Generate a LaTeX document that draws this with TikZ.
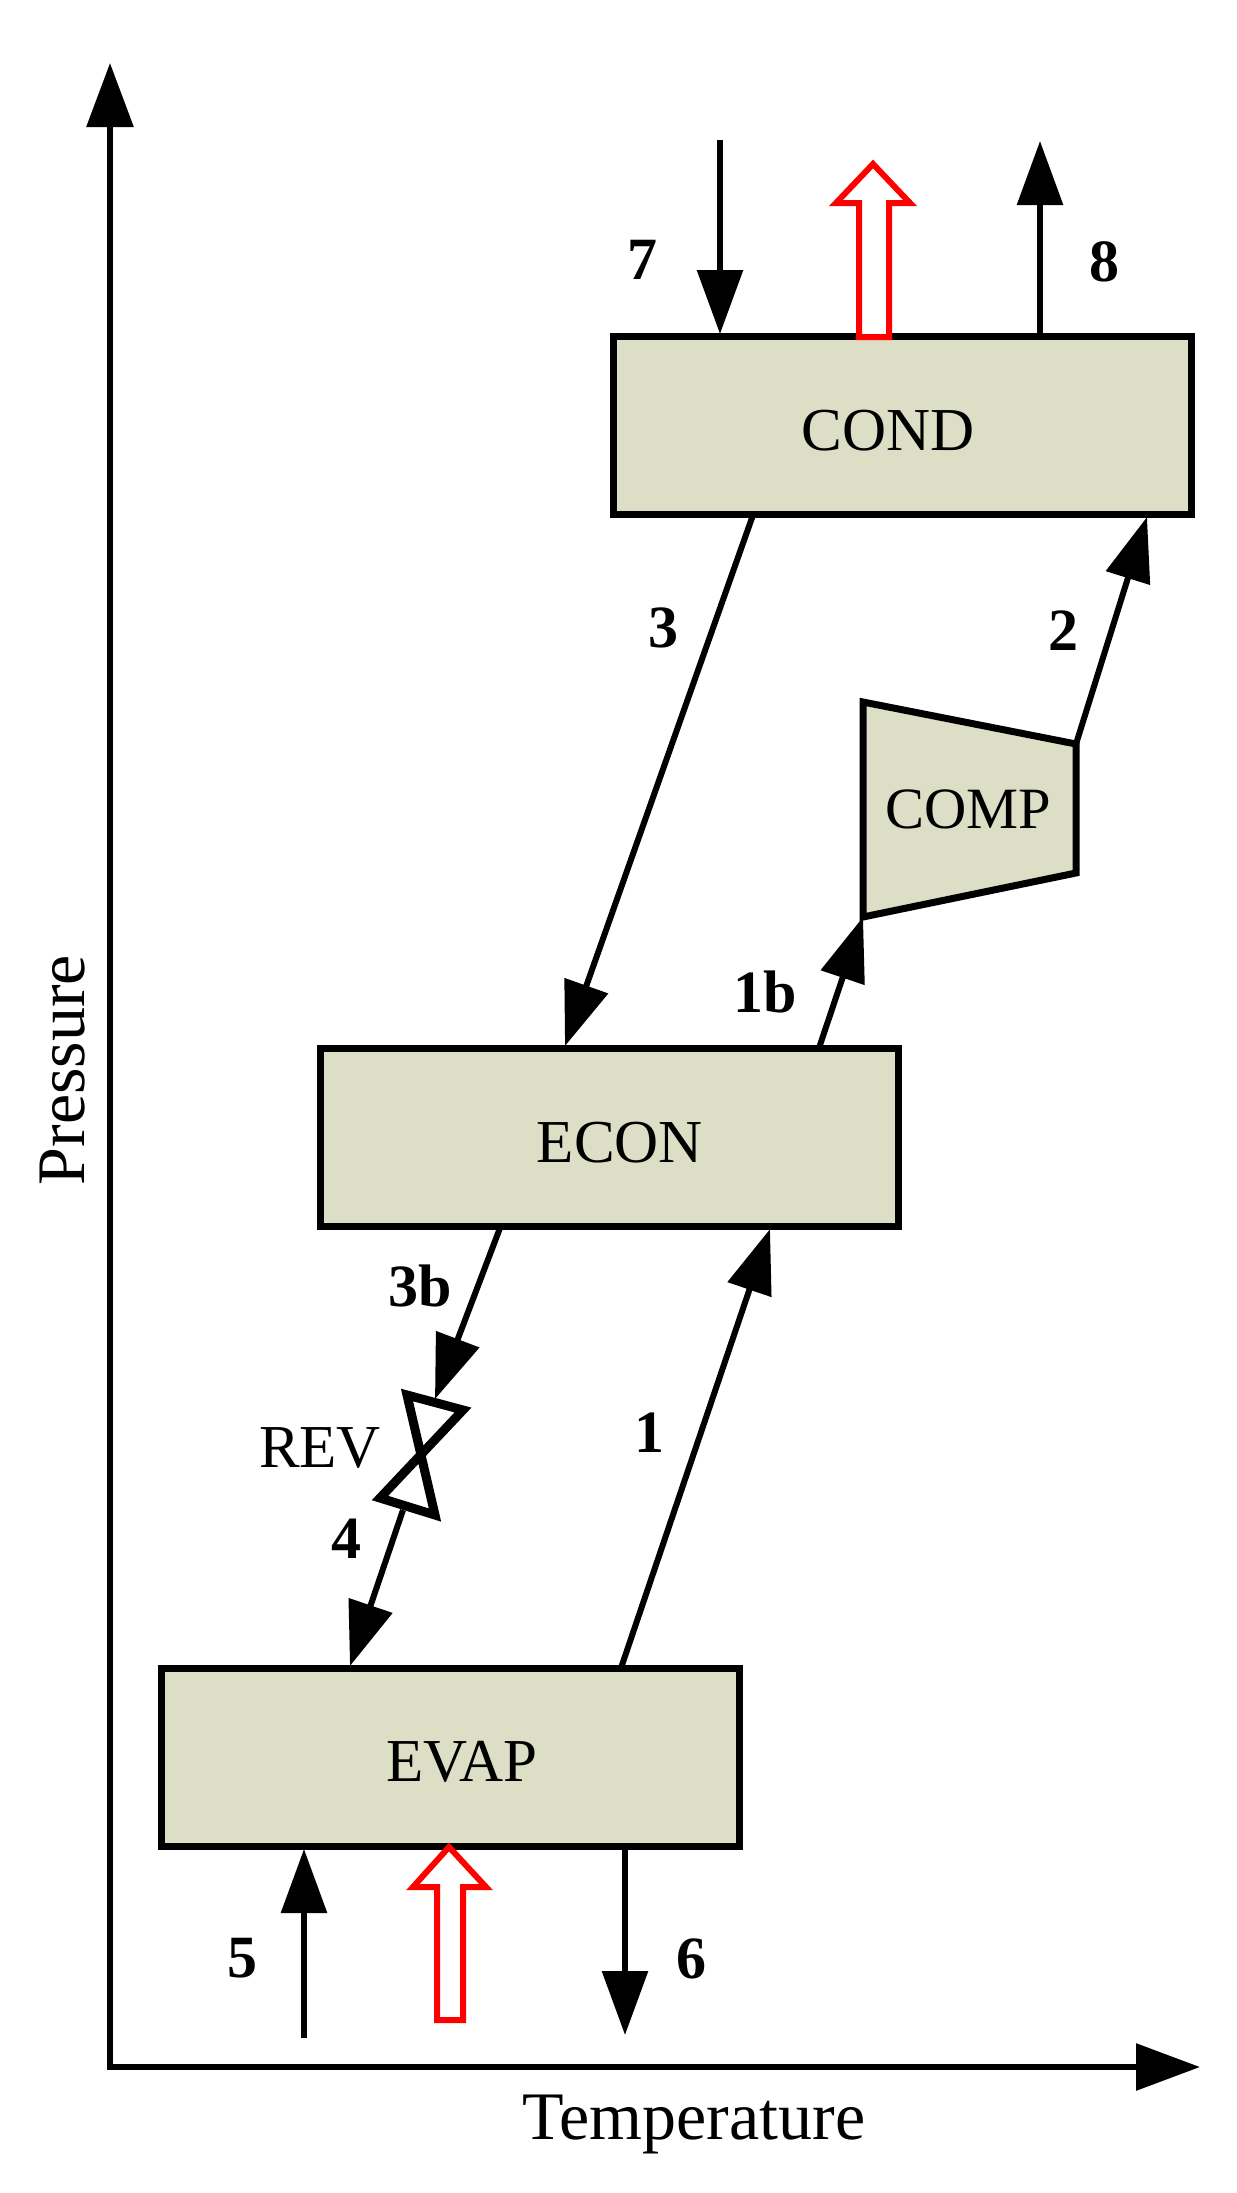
\documentclass[tikz,border=0pt]{standalone}
\usepackage{fontspec}
\setmainfont{Liberation Serif}
\usetikzlibrary{arrows.meta}
\definecolor{boxfill}{HTML}{DCDEC5}
\tikzset{
  flow/.style={line width=6pt,-{Triangle[length=64pt,width=45pt]}},
  plain/.style={line width=6pt},
  axisline/.style={line width=6pt,line cap=rect,-{Triangle[length=64pt,width=46pt]}},
  unit/.style={draw=black,fill=boxfill,line width=7pt,minimum width=578pt,minimum height=178pt,inner sep=0pt,outer sep=0pt},
  unitlabel/.style={inner sep=0pt,font=\fontsize{61pt}{61pt}\selectfont},
  complabel/.style={inner sep=0pt,font=\fontsize{58.5pt}{61pt}\selectfont},
  axislabel/.style={inner sep=0pt,font=\fontsize{68pt}{68pt}\selectfont},
  num/.style={inner sep=0pt,font=\fontsize{60pt}{60pt}\selectfont\bfseries},
  heat/.style={draw=red,fill=white,line width=6pt,miter limit=10},
  machine/.style={draw=black,fill=boxfill,line width=7pt,line join=miter},
  valve/.style={draw=black,fill=white,line width=9pt,line join=miter}
}
\begin{document}
\begin{tikzpicture}[x=1pt,y=-1pt]
\useasboundingbox (0,0) rectangle (1237,2193);
% axes
\coordinate (org) at (110,2067);
\coordinate (ptop) at (110,63);
\coordinate (tright) at (1200,2067);
\draw[axisline] (org) -- (ptop);
\draw[axisline] (org) -- (tright);
\node[axislabel,rotate=90] (pressure) at (63,1070) {Pressure};
\node[axislabel] (temperature) at (694,2124) {Temperature};
% units
\node[unit] (cond) at (902,425.5) {};
\node[unit] (econ) at (609,1137.5) {};
\node[unit] (evap) at (450,1757.5) {};
\node[unitlabel] (condt) at (888,431) {COND};
\node[unitlabel] (econt) at (620,1143) {ECON};
\node[unitlabel] (evapt) at (462,1762) {EVAP};
% compressor
\coordinate (ca) at (863,702);
\coordinate (cb) at (1076,744);
\coordinate (cc) at (1076,873);
\coordinate (cd) at (863,917);
\draw[machine] (ca) -- (cb) -- (cc) -- (cd) -- cycle;
\node[complabel] (compt) at (968,809) {COMP};
% ports
\coordinate (in7) at (720,140);
\coordinate (cond7) at (720,334);
\coordinate (cond8) at (1040,336);
\coordinate (out8) at (1040,141);
\coordinate (cond3) at (753,515);
\coordinate (econ3) at (565,1046);
\coordinate (econ1b) at (819,1048);
\coordinate (cond2) at (1147,517);
\coordinate (econ3b) at (500,1228);
\coordinate (vtop) at (435,1399);
\coordinate (vbot) at (403,1510);
\coordinate (evap4) at (350,1666);
\coordinate (evap1) at (621,1668);
\coordinate (econ1) at (770,1229);
\coordinate (in5) at (304,2038);
\coordinate (evap5) at (304,1849);
\coordinate (evap6) at (625,1847);
\coordinate (out6) at (625,2035);
% connectors
\draw[flow] (cond3) -- (econ3);
\draw[flow] (econ1b) -- (cd);
\draw[flow] (cb) -- (cond2);
\draw[flow] (econ3b) -- (vtop);
\draw[flow] (vbot) -- (evap4);
\draw[flow] (evap1) -- (econ1);
\draw[flow] (in7) -- (cond7);
\draw[flow] (cond8) -- (out8);
\draw[flow] (in5) -- (evap5);
\draw[flow] (evap6) -- (out6);
% valve
\coordinate (va) at (407,1395);
\coordinate (vb) at (463,1410);
\coordinate (vc) at (380,1498);
\coordinate (vd) at (435,1515);
\draw[valve] (va) -- (vb) -- (vc) -- (vd) -- cycle;
% heat arrows
\draw[heat] (859,337) -- (859,203) -- (836,203) -- (873,164) -- (910,203) -- (889,203) -- (889,337) -- cycle;
\draw[heat] (437,2020) -- (437,1887) -- (413,1887) -- (449,1847) -- (486,1887) -- (463,1887) -- (463,2020) -- cycle;
% labels
\node[unitlabel] (rev) at (320,1448) {REV};
\node[num] (l7) at (642,260) {7};
\node[num] (l8) at (1104,262) {8};
\node[num] (l3) at (663,628) {3};
\node[num] (l2) at (1063,631) {2};
\node[num] (l1b) at (765,992) {1b};
\node[num] (l3b) at (420,1286) {3b};
\node[num] (l1) at (649,1433) {1};
\node[num] (l4) at (346,1539) {4};
\node[num] (l5) at (242,1958) {5};
\node[num] (l6) at (691,1959) {6};
\end{tikzpicture}
\end{document}
